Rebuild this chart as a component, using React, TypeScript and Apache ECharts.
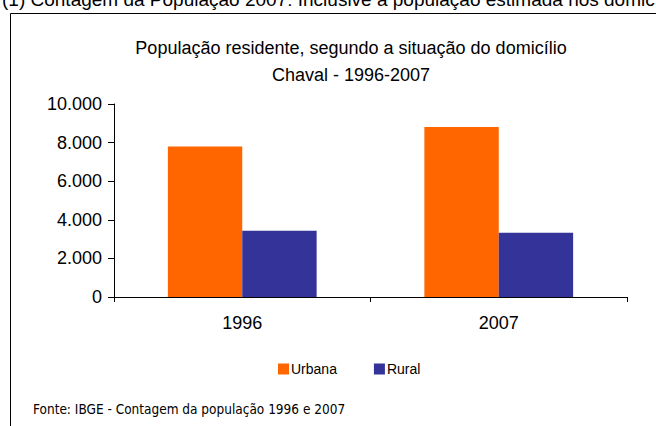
import React, { useEffect, useRef } from "react";
import * as echarts from "echarts";

const categories = ["1996", "2007"];
const urbana = [7800, 8810];
const rural = [3430, 3330];
const seriesNames = ["Urbana", "Rural"];
const yTicks = { min: 0, max: 10000, interval: 2000 };
const titleLines = ["População residente, segundo a situação do domicílio", "Chaval - 1996-2007"];
const topNote = "(1) Contagem da População 2007: Inclusive a população estimada nos domicílios fechados";
const sourceNote = "Fonte: IBGE - Contagem da população 1996 e 2007";

const fmt = (v: number) => String(v).replace(/\B(?=(\d{3})+(?!\d))/g, ".");

export default function App() {
  const ref = useRef<HTMLDivElement>(null);
  useEffect(() => {
    if (!ref.current) return;
    const chart = echarts.init(ref.current, null, { renderer: "svg" });
    chart.setOption({
      animation: false,
      backgroundColor: "#ffffff",
      title: {
        text: titleLines.join("\n"),
        left: 346,
        textAlign: "center",
        top: 29,
        textStyle: {
          fontFamily: "Liberation Sans",
          fontSize: 18,
          fontWeight: "normal",
          color: "#000",
          lineHeight: 27,
        },
      },
      legend: {
        data: seriesNames,
        left: 273,
        top: 357,
        itemWidth: 11,
        itemHeight: 11,
        itemGap: 37,
        icon: "rect",
        textStyle: {
          fontFamily: "Liberation Sans",
          fontSize: 14,
          color: "#000",
          padding: [0, 0, 0, -3],
        },
      },
      graphic: [
        {
          type: "rect",
          shape: { x: 10.5, y: 13.5, width: 700, height: 500 },
          style: { fill: "none", stroke: "#000", lineWidth: 1 },
          silent: true,
        },
        {
          type: "text",
          x: 2,
          y: 9,
          style: {
            text: topNote,
            font: "19px 'Liberation Sans'",
            fill: "#000",
            verticalAlign: "bottom",
          },
        },
        {
          type: "text",
          x: 33,
          y: 409,
          style: {
            text: sourceNote,
            font: "13.5px 'DejaVu Sans Condensed'",
            fill: "#000",
            verticalAlign: "middle",
          },
        },
      ],
      grid: { left: 114, right: 29, top: 104, bottom: 129, containLabel: false },
      xAxis: {
        type: "category",
        data: categories,
        axisLine: { lineStyle: { color: "#000", width: 1 } },
        axisTick: { show: true, length: 5, lineStyle: { color: "#000" } },
        axisLabel: {
          fontFamily: "Liberation Sans",
          fontSize: 18,
          color: "#000",
          margin: 17,
        },
      },
      yAxis: {
        type: "value",
        min: yTicks.min,
        max: yTicks.max,
        interval: yTicks.interval,
        axisLine: { show: true, lineStyle: { color: "#000", width: 1 } },
        axisTick: { show: true, length: 6, lineStyle: { color: "#000" } },
        splitLine: { show: false },
        axisLabel: {
          fontFamily: "Liberation Sans",
          fontSize: 18,
          color: "#000",
          margin: 12,
          formatter: (v: number) => fmt(v),
        },
      },
      series: [
        {
          name: seriesNames[0],
          type: "bar",
          data: urbana,
          itemStyle: { color: "#FF6600" },
          barGap: "0%",
          barCategoryGap: "42%",
        },
        {
          name: seriesNames[1],
          type: "bar",
          data: rural,
          itemStyle: { color: "#333399" },
          barGap: "0%",
          barCategoryGap: "42%",
        },
      ],
    });
    return () => chart.dispose();
  }, []);
  return (
    <div
      ref={ref}
      style={{ position: "absolute", left: 0, top: 0, width: 656, height: 426 }}
    />
  );
}
